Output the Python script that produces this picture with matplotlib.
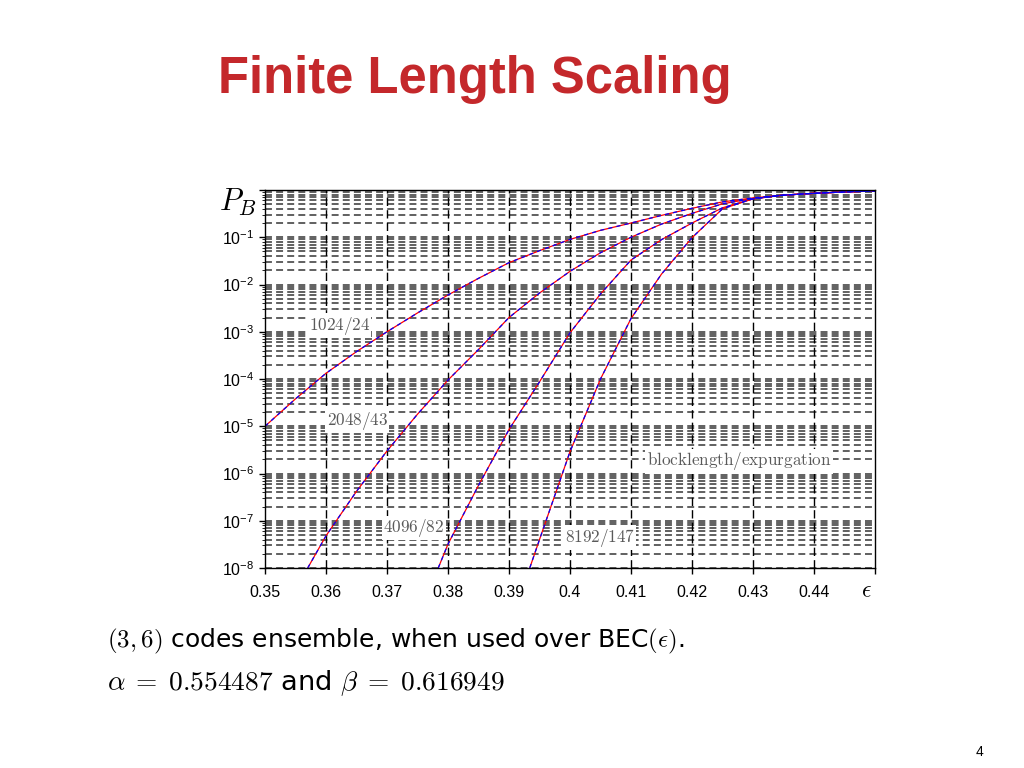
import matplotlib
matplotlib.use('Agg')
import matplotlib.pyplot as plt
import numpy as np
from matplotlib.ticker import FixedLocator, FuncFormatter, NullFormatter

plt.rcParams['font.family'] = ['Liberation Sans', 'DejaVu Sans']
plt.rcParams['lines.scale_dashes'] = False

# 曲线数据 (epsilon, P_B)
eps_1024 = [0.350, 0.355, 0.360, 0.365, 0.370, 0.375, 0.380, 0.385, 0.390, 0.395, 0.400,
            0.405, 0.410, 0.415, 0.420, 0.425, 0.430, 0.435, 0.440, 0.445, 0.450]
pb_1024 = [1.0e-5, 3.8e-5, 1.32e-4, 3.8e-4, 1.0e-3, 2.5e-3, 6.0e-3, 1.35e-2, 2.9e-2, 5.2e-2, 9.0e-2,
           0.14, 0.20, 0.29, 0.41, 0.56, 0.68, 0.78, 0.85, 0.91, 0.955]

eps_2048 = [0.357, 0.360, 0.365, 0.370, 0.375, 0.380, 0.385, 0.390, 0.395, 0.400,
            0.405, 0.410, 0.415, 0.420, 0.425, 0.430, 0.435, 0.440, 0.445, 0.450]
pb_2048 = [1.0e-8, 4.8e-8, 4.2e-7, 3.0e-6, 1.8e-5, 9.5e-5, 4.2e-4, 2.0e-3, 6.6e-3, 1.9e-2,
           4.7e-2, 0.10, 0.19, 0.32, 0.51, 0.66, 0.78, 0.85, 0.91, 0.955]

eps_4096 = [0.3784, 0.380, 0.385, 0.390, 0.395, 0.400, 0.405, 0.410, 0.415, 0.420,
            0.425, 0.430, 0.435, 0.440, 0.445, 0.450]
pb_4096 = [1.0e-8, 3.2e-8, 5.6e-7, 8.5e-6, 8.7e-5, 9.5e-4, 6.3e-3, 3.3e-2, 8.9e-2, 0.20,
           0.42, 0.65, 0.78, 0.85, 0.91, 0.955]

eps_8192 = [0.3934, 0.395, 0.400, 0.405, 0.410, 0.415, 0.420, 0.425, 0.430, 0.435,
            0.440, 0.445, 0.450]
pb_8192 = [1.0e-8, 4.0e-8, 2.9e-6, 1.0e-4, 1.9e-3, 1.66e-2, 9.8e-2, 0.40, 0.65, 0.78,
           0.85, 0.91, 0.955]

curves = [(eps_1024, pb_1024), (eps_2048, pb_2048), (eps_4096, pb_4096), (eps_8192, pb_8192)]

# 标签 (文字, epsilon, P_B)
labels = ['1024/24', '2048/43', '4096/82', '8192/147', 'blocklength/expurgation']
label_eps = [0.3622, 0.3651, 0.3744, 0.4049, 0.4277]
label_pb = [1.35e-3, 1.3e-5, 7.0e-8, 4.4e-8, 1.8e-6]

x_ticks = [0.35, 0.36, 0.37, 0.38, 0.39, 0.40, 0.41, 0.42, 0.43, 0.44, 0.45]
x_ticklabels = ['0.35', '0.36', '0.37', '0.38', '0.39', '0.4', '0.41', '0.42', '0.43', '0.44', '']
y_exps = [-8, -7, -6, -5, -4, -3, -2, -1, 0]

fig = plt.figure(figsize=(10.24, 7.68), dpi=100)
ax = fig.add_axes([265 / 1024, 1 - 568 / 768, 610 / 1024, 378 / 768])
ax.set_yscale('log')
ax.set_xlim(0.35, 0.45)
ax.set_ylim(1e-8, 1)

# 网格线
for e in y_exps[:-1]:
    for m in range(1, 10):
        ax.axhline(m * 10.0 ** e, color='#606060', lw=1.4, ls=(0, (5, 3)), zorder=1)
for xv in x_ticks[1:-1]:
    ax.axvline(xv, color='black', lw=1.0, ls=(0, (6, 3)), zorder=1)

for eps, pb in curves:
    ax.plot(eps, pb, color='red', lw=0.9, zorder=3)
    ax.plot(eps, pb, color='blue', lw=0.9, ls=(0, (3, 3)), zorder=4)

for txt, xe, yp in zip(labels, label_eps, label_pb):
    ax.text(xe, yp, '$\\mathrm{' + txt + '}$', math_fontfamily='cm', fontsize=12.3,
            color='#5a5a5a', ha='center', va='center', zorder=5,
            bbox=dict(facecolor='white', edgecolor='none', pad=0.8))

ax.xaxis.set_major_locator(FixedLocator(x_ticks))
ax.set_xticklabels(x_ticklabels)
ax.yaxis.set_major_locator(FixedLocator([10.0 ** e for e in y_exps]))
ax.yaxis.set_major_formatter(FuncFormatter(
    lambda v, p: '' if v > 0.5 else '$\\mathregular{10^{%d}}$' % round(np.log10(v))))
ax.yaxis.set_minor_formatter(NullFormatter())
ax.tick_params(axis='both', which='major', labelsize=11.5, direction='out', length=4, width=1)
ax.tick_params(axis='x', which='major', pad=8)
ax.tick_params(axis='y', which='minor', direction='out', length=2)
for s in ax.spines.values():
    s.set_linewidth(1.0)
    s.set_zorder(6)

fig.text(238 / 1024, 1 - 202 / 768, '$P_B$', math_fontfamily='cm', fontsize=22,
         ha='center', va='center')
fig.text(866 / 1024, 1 - 591 / 768, '$\\epsilon$', math_fontfamily='cm', fontsize=17,
         ha='center', va='center')

fig.text(475 / 1024, 1 - 80 / 768, 'Finite Length Scaling', fontsize=36.5, fontweight='bold',
         color='#c4282b', ha='center', va='center')

fig.text(107 / 1024, 1 - 641 / 768, '$(3,6)$ codes ensemble, when used over BEC$(\\epsilon)$.',
         family='DejaVu Sans', math_fontfamily='cm', fontsize=18, ha='left', va='center')
fig.text(107 / 1024, 1 - 683 / 768,
         '$\\alpha\\;=\\;0.554487$ and $\\beta\\;=\\;0.616949$',
         family='DejaVu Sans', math_fontfamily='cm', fontsize=19.7, ha='left', va='center')

fig.text(980 / 1024, 1 - 752 / 768, '4', fontsize=10, ha='center', va='center')

fig.savefig('out.png', dpi=100)
